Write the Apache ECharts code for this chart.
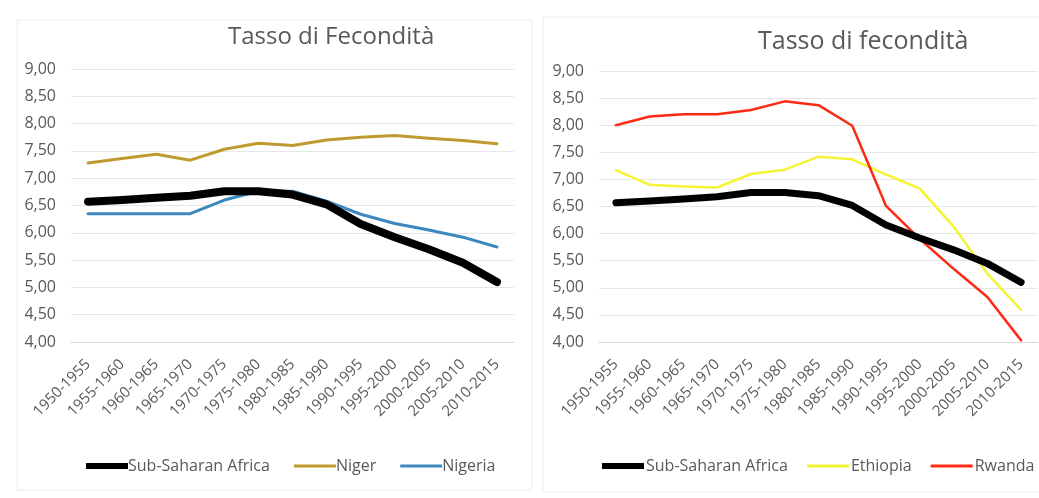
<!DOCTYPE html>
<html>
<head>
<meta charset="utf-8">
<script src="https://cdn.jsdelivr.net/npm/echarts@6/dist/echarts.min.js"></script>
<style>
  html, body { margin: 0; padding: 0; background: #fff; }
  #chart { width: 1039px; height: 498px; }
</style>
</head>
<body>
<div id="chart"></div>
<script>
// periodi quinquennali
const periods = ['1950-1955', '1955-1960', '1960-1965', '1965-1970', '1970-1975', '1975-1980',
  '1980-1985', '1985-1990', '1990-1995', '1995-2000', '2000-2005', '2005-2010', '2010-2015'];

const subSaharan = [6.57, 6.60, 6.64, 6.68, 6.76, 6.76, 6.70, 6.52, 6.16, 5.92, 5.70, 5.45, 5.10];
const niger      = [7.28, 7.36, 7.44, 7.33, 7.53, 7.64, 7.60, 7.70, 7.75, 7.78, 7.73, 7.69, 7.63];
const nigeria    = [6.35, 6.35, 6.35, 6.35, 6.60, 6.76, 6.76, 6.58, 6.34, 6.17, 6.05, 5.92, 5.74];
const ethiopia   = [7.17, 6.90, 6.87, 6.85, 7.10, 7.18, 7.42, 7.37, 7.09, 6.83, 6.13, 5.26, 4.59];
const rwanda     = [8.00, 8.16, 8.20, 8.20, 8.28, 8.44, 8.37, 7.99, 6.51, 5.90, 5.35, 4.83, 4.03];

const yTicks = [4, 9, 0.5]; // min, max, passo

let chart = echarts.init(document.getElementById('chart'));
const gray = '#595959';
const font = '"Open Sans", sans-serif';

// icone della legenda: barra orizzontale (i due M servono a fissare il riquadro 42x14)
const thickIcon = 'path://M0,0M42,14M0,4h42v6h-42z';
const thinIcon = 'path://M0,0M42,14M0,5.5h42v3h-42z';

const xAxisCommon = {
  type: 'category',
  data: periods,
  boundaryGap: true,
  axisLine: { lineStyle: { color: '#d9d9d9' } },
  axisTick: { show: false },
  axisLabel: { rotate: 45, color: gray, fontSize: 15, fontFamily: font, margin: 20, interval: 0 }
};
const yAxisCommon = {
  type: 'value',
  min: yTicks[0],
  max: yTicks[1],
  interval: yTicks[2],
  axisLine: { show: false },
  axisTick: { show: false },
  splitLine: { lineStyle: { color: '#e6e6e6' } },
  axisLabel: {
    color: gray, fontSize: 16, fontFamily: font, margin: 15,
    formatter: v => v.toFixed(2).replace('.', ',')
  }
};

function line(name, data, idx, color, width) {
  return {
    name: name, type: 'line', data: data,
    xAxisIndex: idx, yAxisIndex: idx,
    symbol: 'none', smooth: false,
    lineStyle: { color: color, width: width, cap: 'round', join: 'round' },
    itemStyle: { color: color },
    z: width > 5 ? 3 : 2
  };
}

let option = {
  animation: false,
  backgroundColor: '#fff',
  graphic: [
    { type: 'rect', shape: { x: 17, y: 20, width: 515, height: 470 }, style: { fill: 'none', stroke: '#ececec' } },
    { type: 'rect', shape: { x: 543, y: 17, width: 500, height: 475 }, style: { fill: 'none', stroke: '#ececec' } }
  ],
  title: [
    { text: 'Tasso di Fecondità', left: 223, top: 20, textStyle: { color: gray, fontSize: 24, fontWeight: 'normal', fontFamily: font } },
    { text: 'Tasso di fecondità', left: 753, top: 24, textStyle: { color: gray, fontSize: 25, fontWeight: 'normal', fontFamily: font } }
  ],
  legend: [
    {
      data: [
        { name: 'Sub-Saharan Africa', icon: thickIcon },
        { name: 'Niger', icon: thinIcon },
        { name: 'Nigeria', icon: thinIcon }
      ],
      left: 86, top: 458, width: 450, padding: 0, itemWidth: 42, itemHeight: 14, itemGap: 24,
      textStyle: { color: gray, fontSize: 16, fontFamily: font, padding: [0, 0, 0, -5] }
    },
    {
      data: [
        { name: 'Sub-Saharan Africa', icon: thickIcon },
        { name: 'Ethiopia', icon: thinIcon },
        { name: 'Rwanda', icon: thinIcon }
      ],
      left: 602, top: 458, width: 460, padding: 0, itemWidth: 42, itemHeight: 14, itemGap: 19,
      textStyle: { color: gray, fontSize: 16, fontFamily: font, padding: [0, 0, 0, -3] }
    }
  ],
  grid: [
    { left: 71, width: 443, top: 69, height: 273 },
    { left: 599, width: 439, top: 71, height: 271 }
  ],
  xAxis: [
    Object.assign({ gridIndex: 0 }, xAxisCommon),
    Object.assign({ gridIndex: 1 }, xAxisCommon)
  ],
  yAxis: [
    Object.assign({ gridIndex: 0 }, yAxisCommon),
    Object.assign({ gridIndex: 1 }, yAxisCommon)
  ],
  series: [
    line('Niger', niger, 0, '#BF9A30', 3),
    line('Nigeria', nigeria, 0, '#3C87BE', 3),
    line('Sub-Saharan Africa', subSaharan, 0, '#000000', 8),
    line('Ethiopia', ethiopia, 1, '#F4F434', 2.5),
    line('Rwanda', rwanda, 1, '#FF2A14', 2.5),
    line('Sub-Saharan Africa', subSaharan, 1, '#000000', 7)
  ]
};

option && chart.setOption(option);
</script>
</body>
</html>
